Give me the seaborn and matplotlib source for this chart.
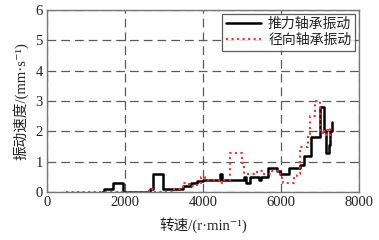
import matplotlib
matplotlib.use("Agg")
import matplotlib.pyplot as plt
import seaborn as sns
import pandas as pd

# Thrust bearing vibration (black, solid)
thrust_rpm = [1400, 1450, 1700, 1950, 2650, 2720, 2970, 3500, 3700, 3850, 4000, 4450,
              4500, 4750, 5050, 5100, 5200, 5450, 5500, 5680, 5900, 5980, 6200, 6480,
              6600, 6780, 7000, 7100, 7150, 7230, 7270, 7310]
thrust_val = [0.0, 0.1, 0.3, 0.0, 0.1, 0.6, 0.1, 0.2, 0.3, 0.35, 0.4, 0.6,
              0.4, 0.4, 0.5, 0.3, 0.5, 0.4, 0.5, 0.8, 0.7, 0.6, 0.8, 0.9,
              1.2, 1.8, 2.8, 2.0, 1.3, 1.55, 2.0, 2.3]

# Radial bearing vibration (red, dotted)
radial_rpm = [500, 2620, 2780, 3250, 3500, 3650, 3850, 3950, 4050, 4400, 4550, 4700,
              4900, 5000, 5050, 5300, 5450, 5550, 5750, 5960, 6020, 6060, 6300, 6340,
              6420, 6480, 6500, 6700, 6740, 6880, 7000, 7070, 7100, 7150, 7180, 7250, 7270]
radial_val = [0.0, 0.1, 0.0, 0.1, 0.3, 0.2, 0.3, 0.5, 0.4, 0.3, 0.4, 1.3,
              1.3, 0.95, 0.6, 0.65, 0.7, 0.6, 0.7, 0.6, 0.4, 0.3, 0.3, 0.5,
              0.6, 0.8, 1.5, 1.9, 2.5, 3.0, 2.0, 1.9, 2.0, 1.8, 2.05, 2.1, 1.7]

labels = ["推力轴承振动", "径向轴承振动"]
xticks = [0, 2000, 4000, 6000, 8000]
yticks = [0, 1, 2, 3, 4, 5, 6]

sns.set_theme(style="white")
plt.rcParams['font.family'] = ['Liberation Serif', 'Noto Sans CJK SC', 'DejaVu Serif']

fig = plt.figure(figsize=(3.79, 2.40), dpi=100)
ax = fig.add_axes([0.124, 0.2, 0.823, 0.758])

df_t = pd.DataFrame({"rpm": thrust_rpm, "v": thrust_val})
df_r = pd.DataFrame({"rpm": radial_rpm, "v": radial_val})

sns.lineplot(data=df_t, x="rpm", y="v", ax=ax, color="black", linewidth=1.8,
             drawstyle="steps-post", estimator=None, sort=False, label=labels[0])
sns.lineplot(data=df_r, x="rpm", y="v", ax=ax, color="#ff2a2a", linewidth=1.5,
             linestyle=":", drawstyle="steps-post", estimator=None, sort=False,
             label=labels[1])

ax.set_xlim(0, 8000)
ax.set_ylim(0, 6)
ax.set_xticks(xticks)
ax.set_yticks(yticks)
ax.grid(True, color="#5a5a5a", linestyle=(0, (7, 4)), linewidth=0.9)
for s in ax.spines.values():
    s.set_color("#777777")
    s.set_linewidth(1.0)
ax.tick_params(axis="both", direction="in", length=3, color="#777777",
               labelsize=10.5, pad=3, labelcolor="#222222")

ax.set_xlabel("转速/(r·min⁻¹)", fontsize=10.5, color="#222222", labelpad=6)
ax.set_ylabel("振动速度/(mm·s⁻¹)", fontsize=10.5, color="#222222", labelpad=5)

leg = ax.legend(loc="upper right", frameon=True, fancybox=False, edgecolor="#333333",
                fontsize=10, borderpad=0.3, labelspacing=0.2, handlelength=2.5,
                handletextpad=0.5, borderaxespad=0.25)
leg.get_frame().set_linewidth(0.9)
for t in leg.get_texts():
    t.set_color("#222222")

fig.savefig("out.png", dpi=100)
